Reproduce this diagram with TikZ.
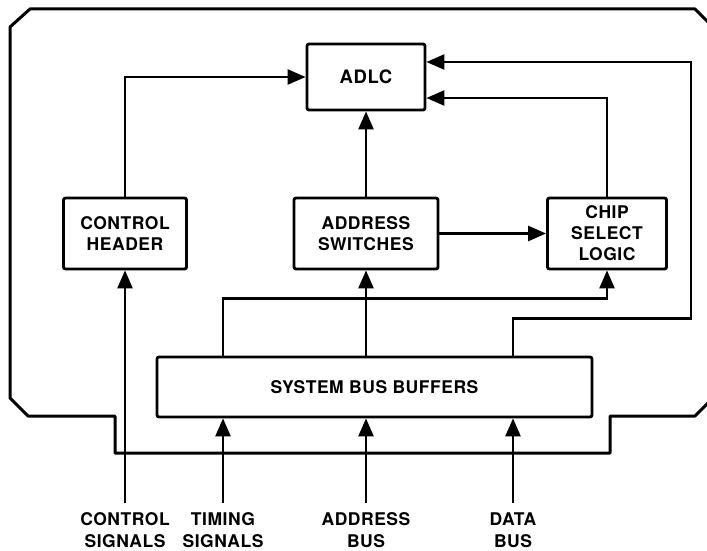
\documentclass[tikz,border=0pt]{standalone}
\usepackage{fontspec}
\setmainfont{TeX Gyre Heros}[LetterSpace=3]
\usetikzlibrary{arrows.meta}
\tikzset{
  blk/.style={draw, line width=2.8pt, rounded corners=2pt, align=center,
    font=\fontsize{17.5}{21}\selectfont\bfseries},
  lbl/.style={align=center, anchor=north, inner xsep=2pt, inner ysep=8pt,
    font=\fontsize{17.5}{22}\selectfont\bfseries},
}
\begin{document}
\begin{tikzpicture}[x=1pt, y=-1pt, >={Triangle[length=18pt,width=15pt]}, line width=2.5pt]
	\clip (0,0) rectangle (707,551);
	% board outline
	\draw[line width=3pt, line join=round] (30,9) -- (695,9) -- (713,27) -- (713,398)
		-- (695,416) -- (610,416) -- (610,453) -- (115,453) -- (115,416) -- (28,416)
		-- (10,398) -- (10,27) -- cycle;
	\node[blk, minimum width=118pt, minimum height=66pt, font=\fontsize{18.5}{21}\selectfont\bfseries] (adlc) at (366,77) {ADLC};
	\node[blk, minimum width=123pt, minimum height=71pt] (ctrl) at (125,233.5) {CONTROL\\HEADER};
	\node[blk, minimum width=144pt, minimum height=71pt] (addr) at (366,233.5) {ADDRESS\\SWITCHES};
	\node[blk, minimum width=119pt, minimum height=71pt] (csl) at (607,233.5) {CHIP\\SELECT\\LOGIC};
	\node[blk, minimum width=435pt, minimum height=60pt] (sbb) at (374.5,387) {SYSTEM BUS BUFFERS};
	\node[lbl] (ctlsig) at (125,503) {CONTROL\\SIGNALS};
	\node[lbl] (timsig) at (223,503) {TIMING\\SIGNALS};
	\node[lbl] (adrsig) at (366,503) {ADDRESS\\BUS};
	\node[lbl] (datsig) at (513,503) {DATA\\BUS};
	% inputs
	\draw[->] (ctlsig.north) -- (ctlsig.north |- ctrl.south);
	\draw[->] (timsig.north) -- (timsig.north |- sbb.south);
	\draw[->] (adrsig.north) -- (adrsig.north |- sbb.south);
	\draw[->] (datsig.north) -- (datsig.north |- sbb.south);
	% buffers to the board
	\draw[->] (timsig |- sbb.north) -- ++(0,-57) -| (csl.south);
	\draw[->] (adrsig |- sbb.north) -- (addr.south);
	\draw[->] (datsig |- sbb.north) -- ++(0,-37) -- ++(178,0) |- ([yshift=15pt]adlc.east);
	% to the ADLC
	\draw[->] (ctrl.north) |- (adlc.west);
	\draw[->] (addr.north) -- (adlc.south);
	\draw[->] (csl.north) |- ([yshift=-21pt]adlc.east);
	\draw[->] (addr.east) -- (csl.west);
\end{tikzpicture}
\end{document}
